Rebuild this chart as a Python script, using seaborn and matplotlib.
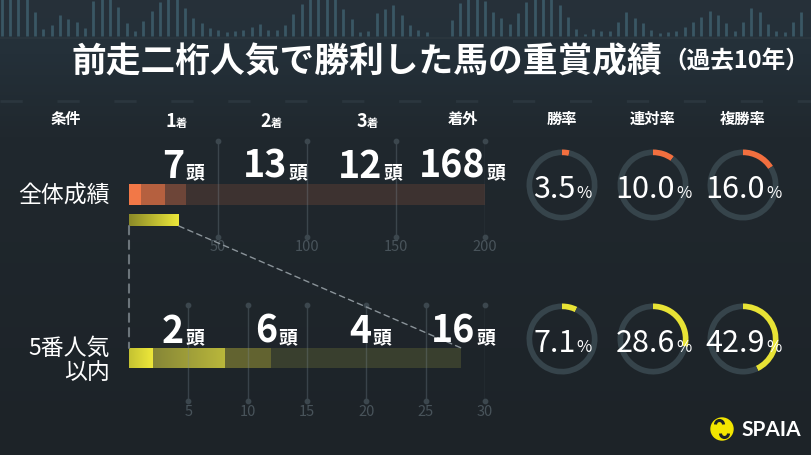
import numpy as np
import pandas as pd
import matplotlib
matplotlib.use("Agg")
import matplotlib.pyplot as plt
import seaborn as sns
from matplotlib.colors import LinearSegmentedColormap
from matplotlib.patches import ConnectionPatch, Circle, Arc

# ---- data ----
places = ["1着", "2着", "3着", "着外"]
rate_names = ["勝率", "連対率", "複勝率"]
all_counts = [7, 13, 12, 168]        # 全体成績
top5_counts = [2, 6, 4, 16]          # 5番人気以内
all_rates = [3.5, 10.0, 16.0]
top5_rates = [7.1, 28.6, 42.9]
all_ticks = [50, 100, 150, 200]
top5_ticks = [5, 10, 15, 20, 25, 30]
# skyline decoration on the top edge: top of each little bar (px from the top)
deco_tops = [0, 0, 0, 0, 13, 30, 26, 16, 20, 23, 29, 2, 0, 0, 8, 24, 32, 22,
             12, 3, 0, 0, 9, 19, 24, 29, 31, 33, 32, 31, 28, 25, 31, 31, 26, 15,
             5, 0, 0, 0, 0, 10, 20, 33, 32, 14, 10, 6, 16, 26, 31, 33, 37, 37,
             21, 4, 0, 0, 2, 13, 19, 25, 14, 3, 0, 0, 0, 6, 18, 30, 35, 30,
             32, 32, 23, 13, 19, 24, 31, 34, 33, 32, 28, 23, 18, 12, 16, 24,
             32, 23, 9, 13, 25, 32, 33, 23, 13]

sns.set_style("white")
plt.rcParams['font.family'] = ['Noto Sans CJK JP', 'DejaVu Sans']

W, H = 812, 456
fig = plt.figure(figsize=(W / 100, H / 100), dpi=100)
bg = fig.add_axes([0, 0, 1, 1])
bg.set_xlim(0, W)
bg.set_ylim(H, 0)
bg.set_axis_off()


def px_rect(x0, y0, x1, y1):
    return [x0 / W, 1 - y1 / H, (x1 - x0) / W, (y1 - y0) / H]


def txt(x, y, s, **kw):
    kw.setdefault('color', 'white')
    return fig.text(x, y, s, transform=bg.transData, **kw)


# background
bg_cmap = LinearSegmentedColormap.from_list(
    "bg", [(0, '#27313a'), (0.12, '#243039'), (0.3, '#20282e'), (1, '#1d2328')])
bg.imshow(np.linspace(0, 1, 256)[:, None], cmap=bg_cmap, extent=(0, W, H, 0),
          aspect='auto', zorder=0)
deco_x = 1.7 + 8.33 * np.arange(len(deco_tops))
bg.vlines(deco_x, deco_tops, 37, color='#3a5764', lw=2, zorder=1)
bg.hlines(38.5, 0, W, color='#2a353d', lw=1.5, zorder=1)
bg.hlines(102, 0, W, color='#2b363e', lw=2, linestyles=(0, (8, 12.5)), zorder=1)

# title
txt(662, 62, "前走二桁人気で勝利した馬の重賞成績", size=25, weight='bold',
    ha='right', va='center')
txt(663, 62, "（過去10年）", size=17, weight='bold', ha='left', va='center')

# header row
txt(66, 119, "条件", size=11, weight='bold', ha='center', va='center')
head_split = [176, 271, 367]
for x, p in zip(head_split, places[:3]):
    txt(x, 127, p[0], size=13, weight='bold', ha='right', va='baseline')
    txt(x, 127, p[1], size=8, weight='bold', ha='left', va='baseline')
txt(463, 119, places[3], size=11, weight='bold', ha='center', va='center')
donut_x = [562, 653, 743]
for x, r in zip(donut_x, rate_names):
    txt(x, 119, r, size=11, weight='bold', ha='center', va='center')

# row labels
txt(110, 196, "全体成績", size=16.5, ha='right', va='center')
txt(110, 348, "5番人気", size=16.5, ha='right', va='center')
txt(110, 373, "以内", size=16.5, ha='right', va='center')


def grad_fill(ax, patch, x_start, c0, c1):
    y0, h = patch.get_y(), patch.get_height()
    x1 = patch.get_x() + patch.get_width()
    cm = LinearSegmentedColormap.from_list("g", [c0, c1])
    im = ax.imshow(np.linspace(0, 1, 64)[None, :], cmap=cm,
                   extent=(x_start, x1, y0 + h, y0), aspect='auto',
                   zorder=patch.get_zorder() + 0.1)
    im.set_clip_path(patch)


def stacked(ax, counts, label, colors):
    cum = np.cumsum(counts)
    df = pd.DataFrame({"place": places, "cum": cum, "group": label})
    segs = {}
    for i in range(len(places) - 1, -1, -1):
        sns.barplot(data=df.iloc[[i]], x="cum", y="group", orient="h",
                    color=colors[i], saturation=1, width=1, errorbar=None,
                    linewidth=0, ax=ax, zorder=2)
        segs[places[i]] = (ax.patches[-1], cum[i] - counts[i])
    return segs


def grid(ax, ticks, y0, y1, ylab):
    ax.vlines(ticks, y0, y1, color='#7d8d97', alpha=0.3, lw=1, zorder=3)
    ax.scatter(ticks + ticks, [y0] * len(ticks) + [y1] * len(ticks),
               s=10, color='#3c474e', zorder=3, clip_on=False)
    for t in ticks:
        ax.text(t, ylab, str(t), color='#48535a', size=10.5, ha='center',
                va='center', clip_on=False)


# 全体成績 bar (0-200 scale)
ax1 = fig.add_axes(px_rect(129, 140, 485, 260))
top_colors = ['#f27847', '#b5603f', '#6d4538', '#3d3230']
stacked(ax1, all_counts, "全体成績", top_colors)
small = ax1.barh(1.214, sum(top5_counts), height=0.571, left=0,
                 color='#c9c632', lw=0, zorder=2)[0]
grad_fill(ax1, small, 0, '#8b8a28', '#ece73a')
grid(ax1, all_ticks, -2.548, 2.024, 2.452)
ax1.set_xlim(0, 200)
ax1.set_ylim(3.071, -2.643)
ax1.set_axis_off()

# 5番人気以内 bar (0-30 scale)
ax2 = fig.add_axes(px_rect(129, 300, 485, 420))
bot_colors = ['#dcd836', '#a0a039', '#626330', '#393f2e']
segs = stacked(ax2, top5_counts, "5番人気以内", bot_colors)
grad_fill(ax2, *segs["1着"], '#c4c232', '#eee83a')
grad_fill(ax2, *segs["2着"], '#868637', '#b9b73b')
grid(ax2, top5_ticks, -2.65, 2.15, 2.65)
ax2.set_xlim(0, 30)
ax2.set_ylim(3.05, -2.95)
ax2.set_axis_off()

# dashed connectors from the small bar down to the lower bar
for xv, col, lw in [(0, '#6c757b', 1.5), (sum(top5_counts), '#8a9399', 1)]:
    con = ConnectionPatch(xyA=(xv, 1.5), coordsA=ax1.transData,
                          xyB=(xv, -0.5), coordsB=ax2.transData,
                          color=col, lw=lw, linestyle=(0, (4, 3)), zorder=1)
    fig.add_artist(con)

# head counts
for xs, y, counts in [([184, 287, 382, 485], 178, all_counts),
                      ([184, 277, 371, 475], 343, top5_counts)]:
    for x, c in zip(xs, counts):
        txt(x, y, str(c), size=27, weight='bold', ha='right', va='baseline')
        txt(x + 1, y, "頭", size=13.5, weight='bold', ha='left', va='baseline')

# donuts
renderer = fig.canvas.get_renderer()
for cy, rates, accent in [(186, all_rates, '#f26f3f'), (340, top5_rates, '#e8e335')]:
    for cx, r in zip(donut_x, rates):
        pa = fig.add_axes(px_rect(cx - 35.5, cy - 35.5, cx + 35.5, cy + 35.5))
        pa.pie([r, 100 - r], colors=[accent, '#36444b'], startangle=90,
               counterclock=False, wedgeprops=dict(width=0.16, linewidth=0))
        pa.set_xlim(-1, 1)
        pa.set_ylim(-1, 1)
        pa.set_axis_off()
        t1 = txt(0, cy + 12, f"{r:.1f}", size=22, ha='left', va='baseline')
        t2 = txt(0, cy + 12, "%", size=12, ha='left', va='baseline')
        w1 = t1.get_window_extent(renderer).width
        w2 = t2.get_window_extent(renderer).width
        left = cx - (w1 + w2) / 2
        t1.set_x(left)
        t2.set_x(left + w1 + 1)

# logo
bg.add_patch(Circle((722, 430), 11, color='#f3e600', zorder=2))
bg.add_patch(Arc((719.5, 425.5), 8, 8, theta1=180, theta2=360, color='#1d2328',
                 lw=2.2, zorder=3))
bg.add_patch(Arc((724.5, 434.5), 8, 8, theta1=0, theta2=180, color='#1d2328',
                 lw=2.2, zorder=3))
txt(741, 430, "SPAIA", size=15, weight='bold', family=['Lato', 'DejaVu Sans'],
    ha='left', va='center')

fig.savefig("out.png", dpi=100)
plt.close(fig)
